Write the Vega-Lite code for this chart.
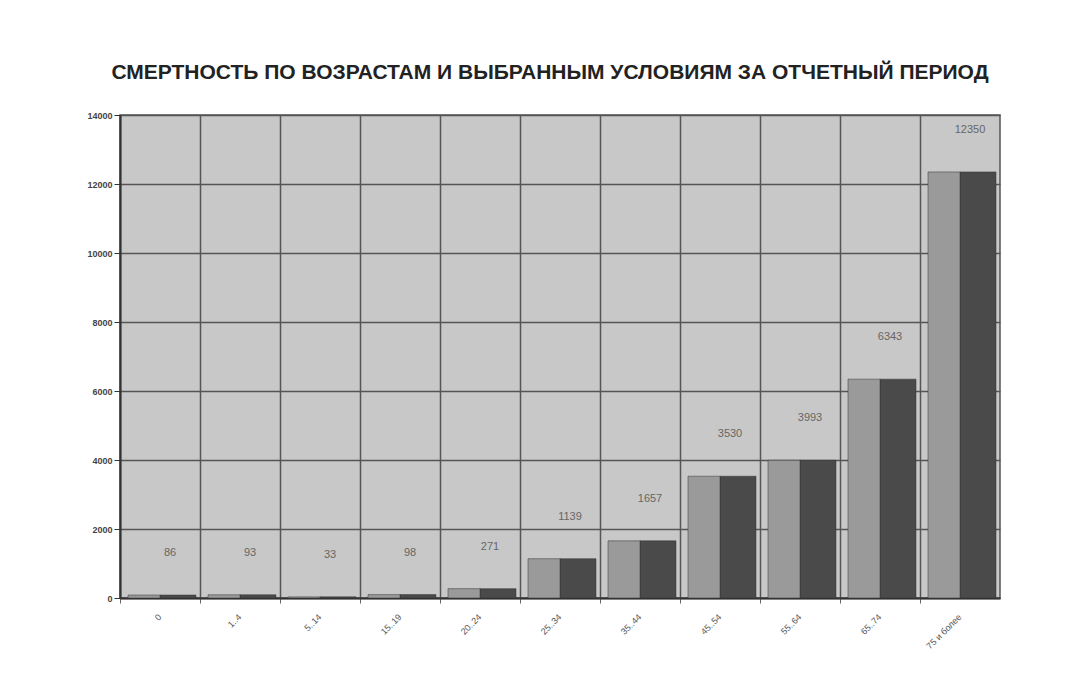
{
  "$schema": "https://vega.github.io/schema/vega-lite/v6.json",
  "autosize": "none",
  "width": 880,
  "height": 483,
  "padding": {"left": 120, "top": 115, "right": 91, "bottom": 90},
  "background": "white",
  "title": {
    "text": "СМЕРТНОСТЬ ПО ВОЗРАСТАМ И ВЫБРАННЫМ УСЛОВИЯМ ЗА ОТЧЕТНЫЙ ПЕРИОД",
    "font": "Liberation Sans",
    "fontSize": 21,
    "fontWeight": "bold",
    "color": "#222222",
    "anchor": "middle",
    "dx": -10,
    "offset": 28
  },
  "data": {
    "values": [
      {"age": "0", "deaths": 86},
      {"age": "1..4", "deaths": 93},
      {"age": "5..14", "deaths": 33},
      {"age": "15..19", "deaths": 98},
      {"age": "20..24", "deaths": 271},
      {"age": "25..34", "deaths": 1139},
      {"age": "35..44", "deaths": 1657},
      {"age": "45..54", "deaths": 3530},
      {"age": "55..64", "deaths": 3993},
      {"age": "65..74", "deaths": 6343},
      {"age": "75 и более", "deaths": 12350}
    ]
  },
  "encoding": {
    "x": {
      "field": "age",
      "type": "nominal",
      "sort": null,
      "title": null,
      "scale": {"paddingInner": 0, "paddingOuter": 0},
      "axis": {
        "labelAngle": -45,
        "labelAlign": "right",
        "labelBaseline": "middle",
        "labelFont": "Liberation Sans",
        "labelFontSize": 9,
        "labelColor": "#555555",
        "labelPadding": 12,
        "tickColor": "#666666",
        "domainColor": "#333333",
        "domainWidth": 2,
        "grid": true,
        "gridColor": "#555555",
        "gridWidth": 1.5,
        "bandPosition": 0
      }
    },
    "y": {
      "field": "deaths",
      "type": "quantitative",
      "title": null,
      "scale": {"domain": [0, 14000], "nice": false},
      "axis": {
        "values": [0, 2000, 4000, 6000, 8000, 10000, 12000, 14000],
        "format": "d",
        "labelFont": "Liberation Sans",
        "labelFontSize": 9,
        "labelFontWeight": "bold",
        "labelColor": "#444444",
        "domainColor": "#333333",
        "domainWidth": 2,
        "tickColor": "#333333",
        "tickSize": 6,
        "gridColor": "#555555",
        "gridWidth": 1.5
      }
    }
  },
  "layer": [
    {
      "mark": {"type": "bar", "color": "#4a4a4a", "xOffset": 18, "width": {"band": 0.45}, "stroke": "#333333", "strokeWidth": 0.5}
    },
    {
      "mark": {"type": "bar", "color": "#9a9a9a", "xOffset": -16, "width": {"band": 0.4}, "stroke": "#333333", "strokeWidth": 0.5}
    },
    {
      "mark": {"type": "text", "font": "Liberation Sans", "fontSize": 11, "fill": "#666666", "dy": -42, "dx": 10},
      "encoding": {"text": {"field": "deaths", "type": "quantitative", "format": "d"}}
    }
  ],
  "config": {
    "view": {"fill": "#c8c8c8", "stroke": "#555555", "strokeWidth": 1.5}
  }
}
